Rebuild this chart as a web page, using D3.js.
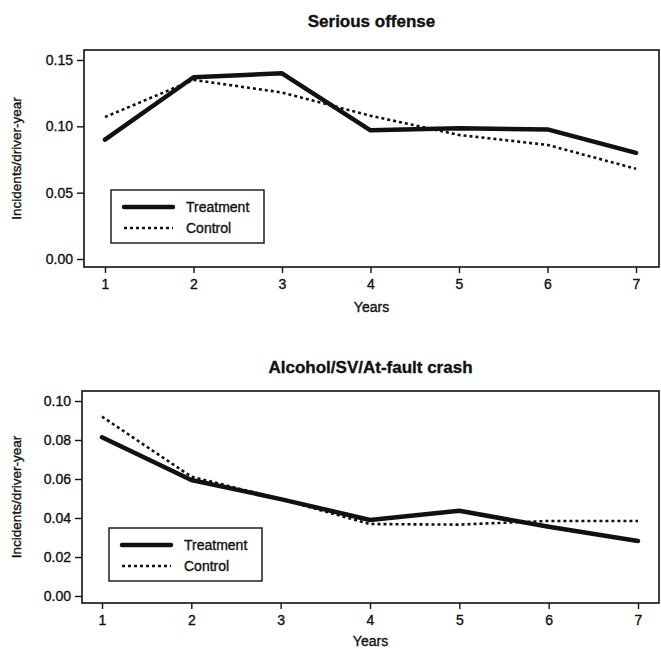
<!DOCTYPE html>
<html>
<head>
<meta charset="utf-8">
<script src="https://cdn.jsdelivr.net/npm/d3@7"></script>
<style>
  body { margin: 0; background: #fff; }
  svg text { font-family: "Liberation Sans", Arial, sans-serif; fill: #111; stroke: #111; stroke-width: 0.35px; }
</style>
</head>
<body>
<svg id="chart" width="661" height="649"></svg>
<script>
'use strict'

const years = [1, 2, 3, 4, 5, 6, 7]
const seriousTreatment = [0.090, 0.137, 0.140, 0.097, 0.0985, 0.0977, 0.080]
const seriousControl = [0.107, 0.135, 0.1255, 0.108, 0.0935, 0.086, 0.068]
const crashTreatment = [0.0814, 0.0595, 0.0497, 0.039, 0.0437, 0.0355, 0.0282]
const crashControl = [0.092, 0.0612, 0.0497, 0.0369, 0.0366, 0.0385, 0.0385]
const seriousTicks = [0, 0.05, 0.10, 0.15]
const crashTicks = [0, 0.02, 0.04, 0.06, 0.08, 0.10]
const legendLabels = ['Treatment', 'Control']

const svg = d3.select('#chart')

// one panel = one R-style plot with box, axes, two lines and a legend
function drawPanel(p) {
    const x = d3.scaleLinear().domain([1, 7]).range(p.xRange)
    const y = d3.scaleLinear().domain(p.yDomain).range(p.yRange)
    const g = svg.append('g')

    g.append('text')
        .attr('x', (p.box[0] + p.box[1]) / 2)
        .attr('y', p.titleY)
        .attr('text-anchor', 'middle')
        .attr('font-size', 17)
        .attr('font-weight', 'bold')
        .text(p.title)

    const line = d3.line().x((d, i) => x(years[i])).y(d => y(d))

    g.append('path')
        .datum(p.control)
        .attr('d', line)
        .attr('fill', 'none')
        .attr('stroke', '#111')
        .attr('stroke-width', 2.6)
        .attr('stroke-dasharray', '3,3')

    g.append('path')
        .datum(p.treatment)
        .attr('d', line)
        .attr('fill', 'none')
        .attr('stroke', '#111')
        .attr('stroke-width', 4.5)
        .attr('stroke-linejoin', 'round')
        .attr('stroke-linecap', 'round')

    g.append('rect')
        .attr('x', p.box[0]).attr('y', p.box[2])
        .attr('width', p.box[1] - p.box[0]).attr('height', p.box[3] - p.box[2])
        .attr('fill', 'none').attr('stroke', '#111').attr('stroke-width', 1.6)

    const yAxis = g.append('g')
        .attr('transform', `translate(${p.box[0]},0)`)
        .call(d3.axisLeft(y).tickValues(p.ticks).tickFormat(d3.format('.2f')).tickSize(7).tickPadding(4))
    const xAxis = g.append('g')
        .attr('transform', `translate(0,${p.box[3]})`)
        .call(d3.axisBottom(x).tickValues(years).tickFormat(d3.format('d')).tickSize(6).tickPadding(6))

    ;[yAxis, xAxis].forEach(a => {
        a.select('.domain').remove()
        a.selectAll('line').attr('stroke', '#111').attr('stroke-width', 1.4)
        a.selectAll('text').attr('font-size', 14).attr('font-family', '"Liberation Sans", Arial, sans-serif').attr('fill', '#111')
    })

    g.append('text')
        .attr('x', (p.box[0] + p.box[1]) / 2)
        .attr('y', p.xLabelY)
        .attr('text-anchor', 'middle')
        .attr('font-size', 14)
        .text('Years')

    g.append('text')
        .attr('transform', `translate(21,${(p.box[2] + p.box[3]) / 2}) rotate(-90)`)
        .attr('text-anchor', 'middle')
        .attr('font-size', 13.5)
        .text('Incidents/driver-year')

    // legend
    const L = p.legend
    g.append('rect')
        .attr('x', L.x).attr('y', L.y).attr('width', L.w).attr('height', L.h)
        .attr('fill', '#fff').attr('stroke', '#111').attr('stroke-width', 1.4)
    const styles = [
        {w: 4.5, dash: null},
        {w: 2.6, dash: '3,3'}
    ]
    legendLabels.forEach((lab, i) => {
        const ly = L.y + L.rows[i]
        g.append('line')
            .attr('x1', L.x + 13).attr('x2', L.x + 62)
            .attr('y1', ly).attr('y2', ly)
            .attr('stroke', '#111')
            .attr('stroke-width', styles[i].w)
            .attr('stroke-dasharray', styles[i].dash)
            .attr('stroke-linecap', styles[i].dash ? 'butt' : 'round')
        g.append('text')
            .attr('x', L.x + 75).attr('y', ly + 5)
            .attr('font-size', 14)
            .text(lab)
    })
}

drawPanel({
    title: 'Serious offense',
    titleY: 27,
    treatment: seriousTreatment,
    control: seriousControl,
    ticks: seriousTicks,
    xRange: [105, 636],
    yDomain: [0, 0.15],
    yRange: [259, 60],
    box: [84, 659, 50, 267],
    xLabelY: 312,
    legend: {x: 111, y: 190, w: 153, h: 53, rows: [17, 38]}
})

drawPanel({
    title: 'Alcohol/SV/At-fault crash',
    titleY: 373,
    treatment: crashTreatment,
    control: crashControl,
    ticks: crashTicks,
    xRange: [102, 638],
    yDomain: [0, 0.10],
    yRange: [596, 401],
    box: [82, 659, 391, 603],
    xLabelY: 646,
    legend: {x: 109, y: 528, w: 153, h: 53, rows: [17, 38]}
})
</script>
</body>
</html>
